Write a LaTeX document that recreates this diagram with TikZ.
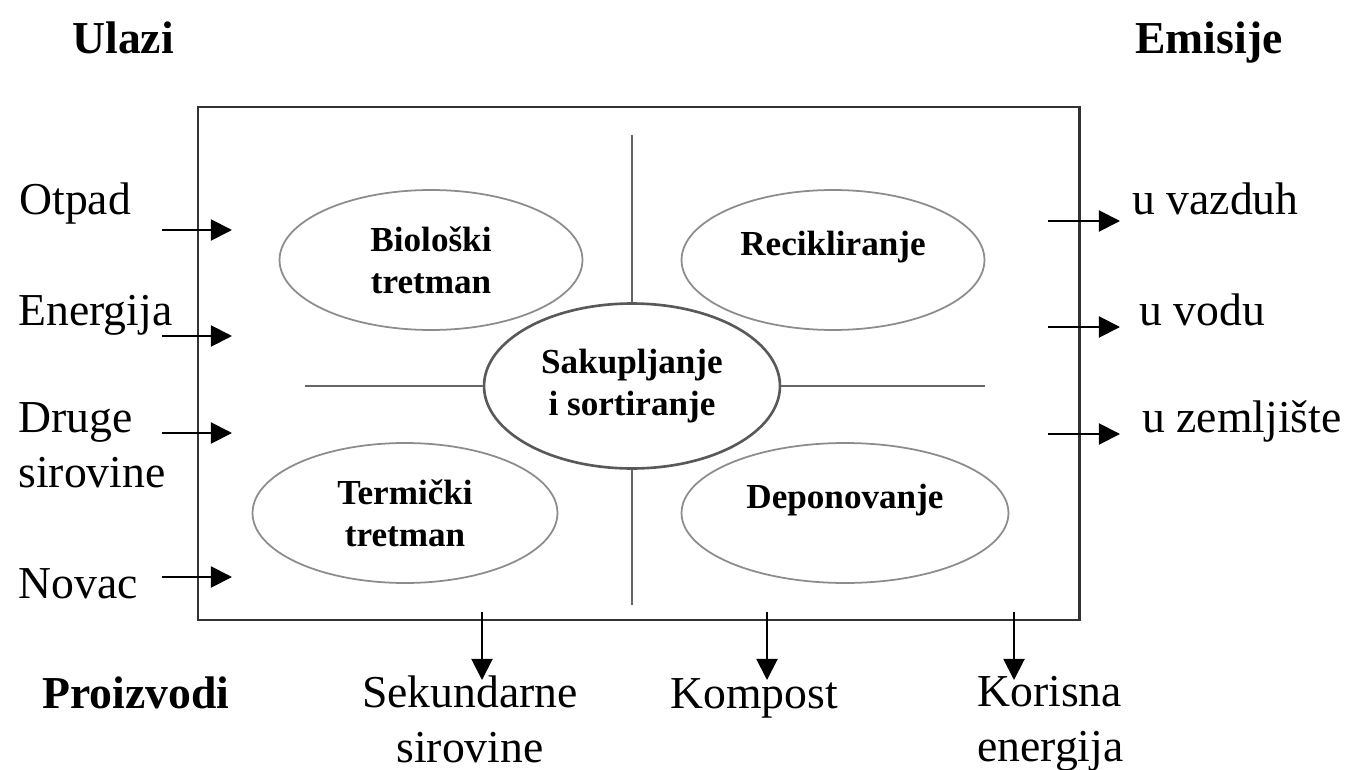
\documentclass[tikz,border=0pt]{standalone}
\usepackage{fontspec}
\setmainfont{Liberation Serif}
\usetikzlibrary{arrows.meta,shapes.geometric}

\tikzset{
	txt/.style={font=\fontsize{26}{31}\selectfont, inner sep=0pt},
	head/.style={font=\fontsize{26}{31}\selectfont\bfseries, inner sep=0pt},
	proc/.style={ellipse, draw=black!45, line width=1pt, align=center, inner sep=0pt,
		font=\fontsize{20}{24}\selectfont\bfseries, minimum width=6.06cm, minimum height=2.8cm},
	flow/.style={-{Triangle[length=12pt,width=12pt]}, line width=1.1pt},
	divide/.style={draw=black!60, line width=1.3pt}
}

\begin{document}
\begin{tikzpicture}[x=0.02cm,y=-0.02cm]
		
		\useasboundingbox (0,0) rectangle (1349,770);
		
		% system frame
		\draw[black!80, line width=1.7pt] (198,107) rectangle (1079,620);
		
		% treatments
		\node[proc, draw=black!65, line width=1.5pt, minimum width=5.92cm, minimum height=3.3cm]
		(sak) at (632,386) {Sakupljanje\\i sortiranje};
		\node[proc] (bio) at (431,260) {Biološki\\tretman};
		\node[proc, text height=0.48cm, text depth=0.68cm] (rec) at (833,260) {Recikliranje};
		\node[proc, minimum width=6.1cm] (term) at (405,513) {Termički\\tretman};
		\node[proc, minimum width=6.54cm, text height=0.48cm, text depth=0.68cm]
		(dep) at (845,513) {Deponovanje};
		
		% dividing lines
		\coordinate (vtop) at (632,135);
		\coordinate (vbot) at (632,605);
		\coordinate (hleft) at (305,386);
		\coordinate (hright) at (985,386);
		\draw[divide] (vtop) -- (sak.north) (sak.south) -- (vbot);
		\draw[divide] (hleft) -- (sak.west) (sak.east) -- (hright);
		
		% headings
		\node[head, anchor=base west] (ulazi) at (72,54) {Ulazi};
		\node[head, anchor=base west] (emisije) at (1135,54) {Emisije};
		\node[head, anchor=base west] (proizvodi) at (42,708) {Proizvodi};
		
		% inputs
		\node[txt, anchor=base west] (otpad) at (19,215) {Otpad};
		\node[txt, anchor=base west] (energ) at (18,325) {Energija};
		\node[txt, anchor=base west, align=left] (druge) at (18,487) {Druge\\sirovine};
		\node[txt, anchor=base west] (novac) at (18,598) {Novac};
		\foreach \y [count=\i] in {230,336,433,577} {
			\coordinate (ins\i) at (162,\y);
			\coordinate (ine\i) at (232,\y);
			\draw[flow] (ins\i) -- (ine\i);
		}
		
		% emissions
		\node[txt, anchor=base west] (vazduh) at (1132,215) {u vazduh};
		\node[txt, anchor=base west] (voda) at (1139,325) {u vodu};
		\node[txt, anchor=base west] (tlo) at (1142,432) {u zemljište};
		\foreach \y [count=\i] in {221,327,434} {
			\coordinate (outs\i) at (1048,\y);
			\coordinate (oute\i) at (1120,\y);
			\draw[flow] (outs\i) -- (oute\i);
		}
		
		% products
		\node[txt, anchor=base, align=center] (sek) at (470,762) {Sekundarne\\sirovine};
		\node[txt, anchor=base west] (kompost) at (670,708) {Kompost};
		\node[txt, anchor=base west, align=left] (korisna) at (977,761) {Korisna\\energija};
		\foreach \x [count=\i] in {482,767,1014} {
			\coordinate (prs\i) at (\x,612);
			\coordinate (pre\i) at (\x,680);
			\draw[flow] (prs\i) -- (pre\i);
		}
		
	\end{tikzpicture}
\end{document}
